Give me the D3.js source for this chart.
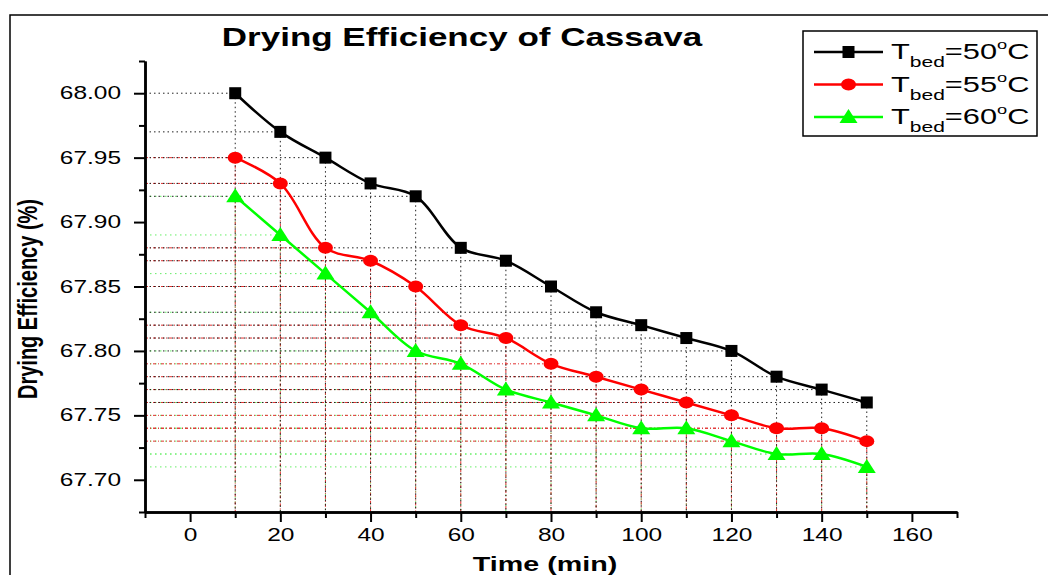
<!DOCTYPE html>
<html>
<head>
<meta charset="utf-8">
<script src="https://cdn.jsdelivr.net/npm/d3@7"></script>
<style>
  body { margin: 0; background: #fff; }
  text { font-family: "Liberation Sans", Arial, sans-serif; }
</style>
</head>
<body>
<div id="chart"></div>
<script>
// data
var times = [10, 20, 30, 40, 50, 60, 70, 80, 90, 100, 110, 120, 130, 140, 150];
var eff50 = [68.00, 67.97, 67.95, 67.93, 67.92, 67.88, 67.87, 67.85, 67.83, 67.82, 67.81, 67.80, 67.78, 67.77, 67.76];
var eff55 = [67.95, 67.93, 67.88, 67.87, 67.85, 67.82, 67.81, 67.79, 67.78, 67.77, 67.76, 67.75, 67.74, 67.74, 67.73];
var eff60 = [67.92, 67.89, 67.86, 67.83, 67.80, 67.79, 67.77, 67.76, 67.75, 67.74, 67.74, 67.73, 67.72, 67.72, 67.71];
var seriesTemps = ["50", "55", "60"];
var xTicks = [0, 20, 40, 60, 80, 100, 120, 140, 160];
var xMinor = [-10, 10, 30, 50, 70, 90, 110, 130, 150, 170];
var yTicks = [67.70, 67.75, 67.80, 67.85, 67.90, 67.95, 68.00];
var yMinor = [67.675, 67.725, 67.775, 67.825, 67.875, 67.925, 67.975, 68.025];

var W = 1051, H = 575;
var SX = 1.4; // the original figure is stretched sideways

var svg = d3.select("#chart").append("svg")
    .attr("width", W)
    .attr("height", H);

// frame of the figure
svg.append("path")
    .attr("d", "M10,575 L10,15 L1048,15")
    .attr("fill", "none")
    .attr("stroke", "#000")
    .attr("stroke-width", 1.5);

// Scales
var x = d3.scaleLinear().domain([-10, 170]).range([145, 957]);
var y = d3.scaleLinear().domain([67.675, 68.025]).range([512, 61]);

var series = [
    { temp: seriesTemps[0], values: eff50, color: "#000", drop: "#222", dash: "1.5,3", shape: "square" },
    { temp: seriesTemps[1], values: eff55, color: "#ff0000", drop: "#e03030", dash: "3,2,1,2", shape: "circle" },
    { temp: seriesTemps[2], values: eff60, color: "#00ff00", drop: "#66ee66", dash: "1.5,3.5", shape: "triangle" }
];

// drop lines to both axes
var drops = svg.append("g");
series.slice().reverse().forEach(function(s){
    s.values.forEach(function(v, i){
        drops.append("line")
            .attr("x1", x(-10)).attr("x2", x(times[i]))
            .attr("y1", y(v)).attr("y2", y(v))
            .attr("stroke", s.drop)
            .attr("stroke-width", 1)
            .attr("stroke-dasharray", s.dash);
        drops.append("line")
            .attr("x1", x(times[i])).attr("x2", x(times[i]))
            .attr("y1", y(v)).attr("y2", y(67.675))
            .attr("stroke", s.drop)
            .attr("stroke-width", 1)
            .attr("stroke-dasharray", s.dash);
    });
});

// Axes
function styleAxis(sel){
    sel.selectAll("path.domain").attr("stroke-width", 2.5);
    sel.selectAll(".tick line").attr("stroke-width", 2);
}

var yMinorAxis = svg.append("g")
    .attr("transform", "translate(" + x(-10) + ",0)")
    .call(d3.axisLeft(y).tickValues(yMinor).tickSize(6).tickSizeOuter(0).tickFormat(""));
styleAxis(yMinorAxis);

var yAxis = svg.append("g")
    .attr("transform", "translate(" + x(-10) + ",0)")
    .call(d3.axisLeft(y).tickValues(yTicks).tickSize(11).tickSizeOuter(0)
        .tickFormat(d3.format(".2f")));
styleAxis(yAxis);
yAxis.selectAll(".tick text")
    .attr("font-size", "17.5px")
    .attr("font-family", "Liberation Sans, Arial, sans-serif")
    .attr("fill", "#000")
    .attr("x", -24 / SX)
    .attr("transform", "scale(" + SX + ",1)");

var xMinorAxis = svg.append("g")
    .attr("transform", "translate(0," + y(67.675) + ")")
    .call(d3.axisBottom(x).tickValues(xMinor).tickSize(6).tickSizeOuter(0).tickFormat(""));
styleAxis(xMinorAxis);

var xAxis = svg.append("g")
    .attr("transform", "translate(0," + y(67.675) + ")")
    .call(d3.axisBottom(x).tickValues(xTicks).tickSize(10).tickSizeOuter(0));
styleAxis(xAxis);
xAxis.selectAll(".tick text")
    .attr("font-size", "17.5px")
    .attr("font-family", "Liberation Sans, Arial, sans-serif")
    .attr("fill", "#000")
    .attr("y", 17)
    .attr("transform", "scale(" + SX + ",1)");

// Curves
var line = d3.line()
    .x(function(d, i){ return x(times[i]); })
    .y(function(d){ return y(d); })
    .curve(d3.curveCatmullRom);

series.forEach(function(s){
    svg.append("path")
        .datum(s.values)
        .attr("fill", "none")
        .attr("stroke", s.color)
        .attr("stroke-width", 2.5)
        .attr("d", line);
});

function drawMarker(g, shape, color, cx, cy){
    if (shape === "square") {
        g.append("rect")
            .attr("x", cx - 6).attr("y", cy - 6)
            .attr("width", 12).attr("height", 12)
            .attr("fill", color);
    } else if (shape === "circle") {
        g.append("ellipse")
            .attr("cx", cx).attr("cy", cy)
            .attr("rx", 7.5).attr("ry", 6)
            .attr("fill", color);
    } else {
        g.append("path")
            .attr("d", "M" + cx + "," + (cy - 8) + " L" + (cx + 9) + "," + (cy + 6) +
                " L" + (cx - 9) + "," + (cy + 6) + "Z")
            .attr("fill", color);
    }
}

var marks = svg.append("g");
series.forEach(function(s){
    s.values.forEach(function(v, i){
        drawMarker(marks, s.shape, s.color, x(times[i]), y(v));
    });
});

// Title and axis labels
svg.append("text")
    .attr("transform", "translate(462,46) scale(" + SX + ",1)")
    .attr("text-anchor", "middle")
    .attr("font-size", "25px")
    .attr("font-weight", "bold")
    .text("Drying Efficiency of Cassava");

svg.append("text")
    .attr("transform", "translate(545,571) scale(" + SX + ",1)")
    .attr("text-anchor", "middle")
    .attr("font-size", "20.5px")
    .attr("font-weight", "bold")
    .text("Time (min)");

svg.append("text")
    .attr("transform", "translate(37,299) scale(" + SX + ",1) rotate(-90)")
    .attr("text-anchor", "middle")
    .attr("font-size", "20px")
    .attr("font-weight", "bold")
    .text("Drying Efficiency (%)");

// Legend
var legend = svg.append("g");
legend.append("rect")
    .attr("x", 803).attr("y", 31)
    .attr("width", 234).attr("height", 105)
    .attr("fill", "#fff")
    .attr("stroke", "#000")
    .attr("stroke-width", 1.5);

series.forEach(function(s, i){
    var ly = 52 + i * 32.5;
    legend.append("line")
        .attr("x1", 814).attr("x2", 883)
        .attr("y1", ly).attr("y2", ly)
        .attr("stroke", s.color)
        .attr("stroke-width", 2.5);
    drawMarker(legend, s.shape, s.color, 848.5, ly);

    var t = legend.append("text")
        .attr("transform", "translate(891," + (ly + 7) + ") scale(" + SX + ",1)")
        .attr("font-size", "22px");
    t.append("tspan").text("T");
    t.append("tspan").attr("font-size", "15px").attr("dy", 8).text("bed");
    t.append("tspan").attr("dy", -8).text("=" + s.temp);
    t.append("tspan").attr("font-size", "13px").attr("dy", -10).text("o");
    t.append("tspan").attr("dy", 10).text("C");
});
</script>
</body>
</html>
